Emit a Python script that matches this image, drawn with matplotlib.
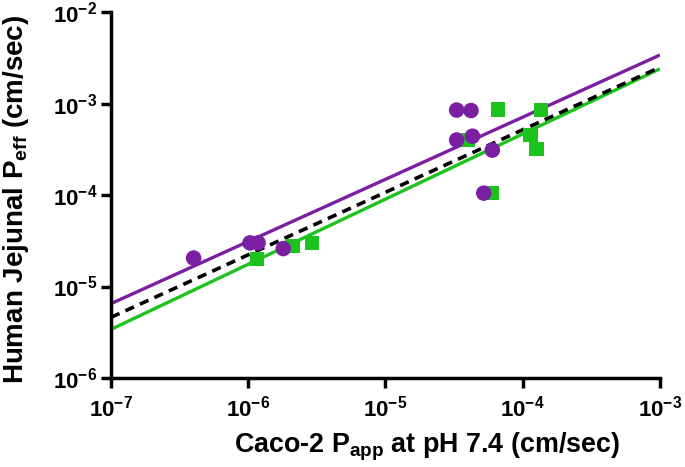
import numpy as np
import matplotlib
matplotlib.use("Agg")
import matplotlib.pyplot as plt
from matplotlib.ticker import FixedLocator, NullLocator

plt.rcParams['font.family'] = ['Liberation Sans', 'DejaVu Sans']
plt.rcParams['font.weight'] = 'bold'
plt.rcParams['mathtext.fontset'] = 'custom'
plt.rcParams['mathtext.rm'] = 'Liberation Sans:bold'
plt.rcParams['mathtext.it'] = 'Liberation Sans:bold'
plt.rcParams['mathtext.bf'] = 'Liberation Sans:bold'
plt.rcParams['mathtext.default'] = 'rm'

# Purple circles
circle_x = [4.0e-7, 1.03e-6, 1.18e-6, 1.8e-6, 3.3e-5, 4.2e-5, 3.3e-5, 4.3e-5, 6.0e-5, 5.2e-5]
circle_y = [2.05e-5, 3.0e-5, 3.0e-5, 2.6e-5, 8.5e-4, 8.4e-4, 4.0e-4, 4.4e-4, 3.1e-4, 1.05e-4]
# Green squares
square_x = [1.16e-6, 2.1e-6, 2.9e-6, 4.0e-5, 6.6e-5, 6.0e-5, 1.14e-4, 1.26e-4, 1.35e-4]
square_y = [2.0e-5, 2.8e-5, 3.0e-5, 4.0e-4, 8.6e-4, 1.05e-4, 4.5e-4, 3.2e-4, 8.5e-4]

# Regression line end values over the x range
line_x_range = [1e-7, 1e-3]
purple_y_ends = [6.5e-6, 3.4e-3]
black_y_ends = [4.6e-6, 2.5e-3]
green_y_ends = [3.4e-6, 2.4e-3]

x_ticks = [1e-7, 1e-6, 1e-5, 1e-4, 1e-3]
x_labels = ['10$^{-7}$', '10$^{-6}$', '10$^{-5}$', '10$^{-4}$', '10$^{-3}$']
y_ticks = [1e-6, 1e-5, 1e-4, 1e-3, 1e-2]
y_labels = ['10$^{-6}$', '10$^{-5}$', '10$^{-4}$', '10$^{-3}$', '10$^{-2}$']

purple = '#7b1fa2'
green = '#1dc31d'

fig = plt.figure(figsize=(6.85, 4.67), dpi=100)
ax = fig.add_axes([0.162, 0.1906, 0.8015, 0.7834])
ax.set_xscale('log')
ax.set_yscale('log')

ax.plot(line_x_range, purple_y_ends, color=purple, lw=2.4, zorder=2, solid_capstyle='butt')
ax.plot(line_x_range, green_y_ends, color=green, lw=2.4, zorder=2, solid_capstyle='butt')
ax.plot(line_x_range, black_y_ends, color='black', lw=2.6, ls=(0, (2.6, 1.8)), zorder=2)

ax.scatter(square_x, square_y, marker='s', s=105, color=green, edgecolors='none', zorder=3, clip_on=False)
ax.scatter(circle_x, circle_y, marker='o', s=125, color=purple, edgecolors='none', zorder=4, clip_on=False)

ax.set_xlim(1e-7, 1e-3)
ax.set_ylim(1e-6, 1e-2)
ax.xaxis.set_major_locator(FixedLocator(x_ticks))
ax.yaxis.set_major_locator(FixedLocator(y_ticks))
ax.xaxis.set_minor_locator(NullLocator())
ax.yaxis.set_minor_locator(NullLocator())
ax.set_xticklabels(x_labels)
ax.set_yticklabels(y_labels)

for s in ['top', 'right']:
    ax.spines[s].set_visible(False)
for s in ['left', 'bottom']:
    ax.spines[s].set_linewidth(2.5)
ax.tick_params(axis='both', which='major', width=2.5, length=7, labelsize=16)
ax.tick_params(axis='x', pad=6)
ax.tick_params(axis='y', pad=3)

ax.set_xlabel('Caco-2 P$_{app}$ at pH 7.4 (cm/sec)', fontsize=19.4, fontweight='bold')
ax.xaxis.set_label_coords(0.576, -0.143)
ax.set_ylabel('Human Jejunal P$_{eff}$ (cm/sec)', fontsize=20, fontweight='bold')
ax.yaxis.set_label_coords(-0.145, 0.487)

fig.savefig('out.png', dpi=100)
